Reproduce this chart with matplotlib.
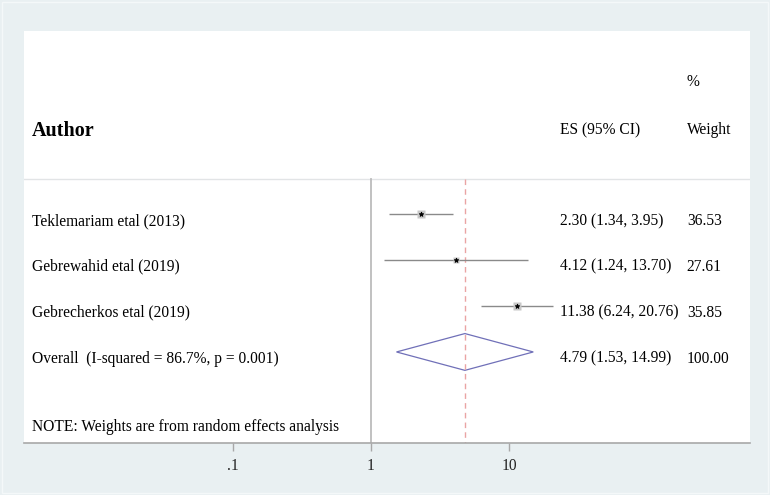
import numpy as np
import matplotlib.pyplot as plt
from matplotlib.patches import Rectangle, Polygon

# study data
studies = ['Teklemariam etal (2013)', 'Gebrewahid etal (2019)', 'Gebrecherkos etal (2019)']
es = [2.30, 4.12, 11.38]
lo = [1.34, 1.24, 6.24]
hi = [3.95, 13.70, 20.76]
weight = [36.53, 27.61, 35.85]

# pooled estimate
overall_label = 'Overall  (I-squared = 86.7%, p = 0.001)'
pooled = 4.79
pooled_lo = 1.53
pooled_hi = 14.99

tick_vals = [0.1, 1, 10]
tick_labels = ['.1', '1', '10']

plt.rcParams['font.family'] = ['Liberation Serif', 'DejaVu Serif']

W, H = 770, 495
fig = plt.figure(figsize=(W / 100, H / 100), dpi=100)
fig.patch.set_facecolor('#e9f0f2')
fig.patches.append(Rectangle((2 / W, 2 / H), 1 - 4 / W, 1 - 4 / H, transform=fig.transFigure,
                             fill=False, edgecolor='#f4f8f9', lw=1))

# axes box in pixels: x 24..750, y 31..443
ax = fig.add_axes([24 / W, 1 - 443 / H, 726 / W, 412 / H])
ax.set_facecolor('white')
ax.set_xscale('log')
ax.set_xlim(10 ** -2.514, 10 ** 2.746)
ax.set_ylim(5.98, -2.98)

for s in ['top', 'right', 'left']:
    ax.spines[s].set_visible(False)
ax.spines['bottom'].set_color('#a8a8a8')
ax.spines['bottom'].set_linewidth(1.2)

ax.set_xticks(tick_vals)
ax.set_xticklabels(tick_labels, fontsize=11.2, color='#222222')
ax.xaxis.set_minor_locator(plt.NullLocator())
ax.tick_params(axis='x', length=6, color='#a8a8a8', width=1, pad=5)
ax.set_yticks([])

rows = np.arange(1, len(studies) + 1)
pool_row = len(studies) + 1

# header separator and reference lines
ax.axhline(0.24, color='#e2e4e6', lw=1)
ax.plot([1, 1], [0.24, 5.98], color='#bcbcbc', lw=1.3)
ax.plot([pooled, pooled], [0.24, 5.98], color='#eaa4a4', lw=1, dashes=(4, 3))

# CIs and point estimates
ax.hlines(rows, lo, hi, color='#8a8a8a', lw=1)
for r, e, w in zip(rows, es, weight):
    ax.plot(e, r, marker='s', ms=np.sqrt(w) * 0.9, color='#c8c8c8', mec='none')
ax.plot(es, rows, 'k*', ms=3.5, mew=0.6)

# pooled diamond
dh = 0.4
diamond = Polygon([[pooled_lo, pool_row], [pooled, pool_row - dh],
                   [pooled_hi, pool_row], [pooled, pool_row + dh]],
                  closed=True, fill=False, edgecolor='#7070b8', lw=0.9)
ax.add_patch(diamond)

tr = ax.get_yaxis_transform()
x_name, x_es, x_w = 0.011, 0.738, 0.913
fs = 11.2
off = 0.15

ax.text(x_name, -0.80, 'Author', transform=tr, fontsize=14.5, fontweight='bold', va='center')
ax.text(x_es, -0.82, 'ES (95% CI)', transform=tr, fontsize=fs, va='center')
ax.text(x_w, -1.86, '%', transform=tr, fontsize=fs, va='center')
ax.text(x_w, -0.82, 'Weight', transform=tr, fontsize=fs, va='center')

for r, name, e, l, h, w in zip(rows, studies, es, lo, hi, weight):
    ax.text(x_name, r + off, name, transform=tr, fontsize=fs, va='center')
    ax.text(x_es, r + off, f'{e:.2f} ({l:.2f}, {h:.2f})', transform=tr, fontsize=fs, va='center')
    ax.text(x_w, r + off, f'{w:.2f}', transform=tr, fontsize=fs, va='center')

ax.text(x_name, pool_row + off, overall_label, transform=tr, fontsize=fs, va='center')
ax.text(x_es, pool_row + off, f'{pooled:.2f} ({pooled_lo:.2f}, {pooled_hi:.2f})', transform=tr,
        fontsize=fs, va='center')
ax.text(x_w, pool_row + off, '100.00', transform=tr, fontsize=fs, va='center')

ax.text(x_name, 5.63, 'NOTE: Weights are from random effects analysis', transform=tr,
        fontsize=fs, va='center')

fig.savefig('out.png', dpi=100, facecolor=fig.get_facecolor())
